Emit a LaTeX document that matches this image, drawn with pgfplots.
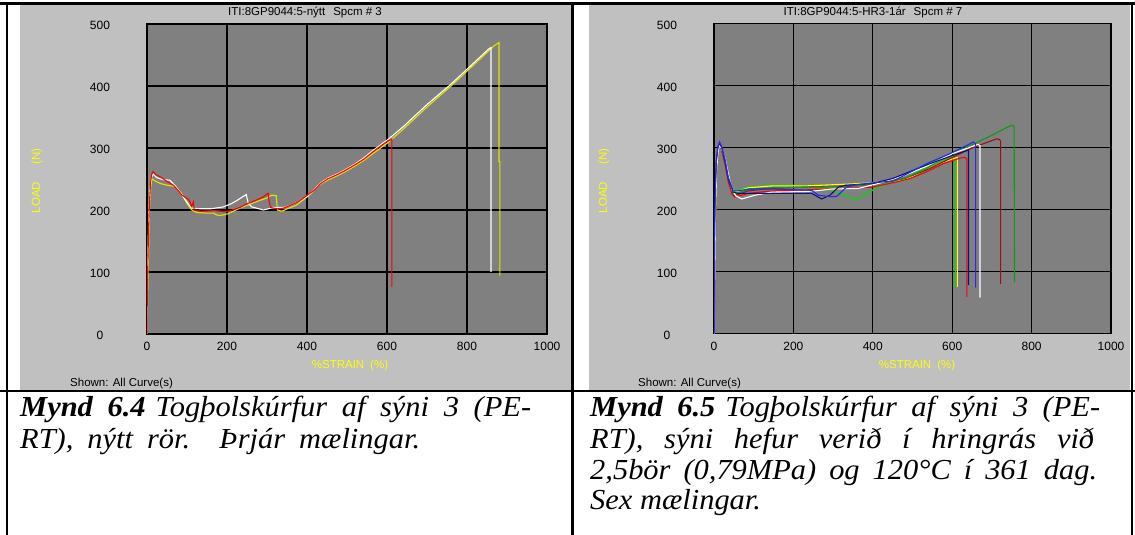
\documentclass[border=0pt]{standalone}
\usepackage{pgfplots}
\pgfplotsset{compat=1.18}
\usepackage{fontspec}
\setmainfont{Liberation Serif}
\newfontfamily\uisans{Liberation Sans}
\newfontfamily\capfont[FakeStretch=1.05]{Liberation Serif}

\definecolor{panelgray}{HTML}{C0C0C0}
\definecolor{plotgray}{HTML}{808080}
\definecolor{lyellow}{HTML}{E2E200}
\definecolor{cyellow}{HTML}{FFFF00}
\definecolor{cred}{HTML}{FF0000}
\definecolor{cgreen}{HTML}{00E000}
\definecolor{dgreen}{HTML}{109A10}
\definecolor{dred}{HTML}{A01010}
\definecolor{cblue}{HTML}{2828F0}
\definecolor{cnavy}{HTML}{101080}

\newcommand{\uifont}{\uisans\fontsize{11.5}{13}\selectfont}
\newcommand{\tickfont}{\uisans\fontsize{12}{14}\selectfont}

\pgfplotsset{
  testplot/.style={
    width=400pt, height=310pt, scale only axis,
    xmin=0, xmax=1000, ymin=0, ymax=500,
    xtick={0,200,...,1000}, ytick={0,100,...,500},
    grid=major, major tick length=0pt,
    grid style={black, line width=1.1pt},
    axis line style={black, line width=1.2pt},
    axis background/.style={fill=plotgray},
    /pgf/number format/assume math mode=true,
    /pgf/number format/1000 sep={},
    ticklabel style={font=\tickfont, text=black},
    yticklabel style={anchor=center, xshift=-47pt, yshift=-1.5pt},
    xticklabel style={anchor=center, yshift=-12.5pt},
    every axis plot/.append style={line width=1.1pt},
  }
}

\begin{document}
\begin{tikzpicture}[x=1pt,y=1pt]
\useasboundingbox (0,0) rectangle (1135,535);
\fill[white] (0,0) rectangle (1135,535);
\fill[panelgray] (20,145) rectangle (571,530);
\fill[panelgray] (589,145) rectangle (1130,530);

% ---------------- left chart ----------------
\begin{axis}[testplot, at={(147pt,201pt)}, anchor=south west]
\addplot[lyellow] coordinates {
  (0,0) (2,80) (4,130) (6,200) (9,235) (12,250) (20,247) (32,243) (50,240)
  (70,238) (85,228) (95,216) (105,206) (112,200) (124,196) (145,195)
  (166,195) (178,191) (190,192) (203,194) (232,203) (260,210) (280,215)
  (299,219) (312,224) (323,223) (326,200) (337,198) (355,203) (374,208)
  (400,221) (420,233) (433,241) (451,248) (475,255) (496,262) (520,271)
  (542,280) (569,293) (601,308) (640,330) (700,366) (760,400) (820,436)
  (870,466) (880,470) (880,278) (882,278) (882,94)
};
\addplot[white] coordinates {
  (0,0) (1,60) (2,125) (4,180) (7,230) (11,252) (15,258) (25,252) (40,249)
  (57,248) (72,238) (91,221) (105,208) (112,203) (132,202) (160,202)
  (191,205) (210,210) (224,215) (248,225) (253,211) (262,205) (291,200)
  (316,204) (342,204) (360,208) (378,213) (401,222) (420,234) (433,243)
  (451,251) (475,258) (496,265) (520,274) (542,284) (569,298) (601,313)
  (640,334) (700,370) (760,403) (820,439) (855,460) (860,462) (860,100)
};
\addplot[cred] coordinates {
  (0,0) (0,30) (1,60) (2,110) (4,170) (6,210) (9,245) (12,258) (15,262)
  (22,257) (32,254) (50,246) (66,240) (79,231) (87,224) (99,219) (104,217)
  (108,212) (111,206) (113,208) (116,213) (118,200) (133,198) (170,199)
  (199,197) (218,201) (232,204) (250,210) (270,215) (290,221) (303,227)
  (305,215) (309,204) (325,202) (341,203) (360,208) (378,213) (399,223)
  (420,233) (433,242) (451,250) (475,257) (496,264) (520,273) (542,282)
  (569,296) (590,306) (601,311) (612,314) (612,76)
};
\end{axis}

% ---------------- right chart ----------------
\begin{axis}[testplot, width=397pt, height=310pt, at={(714pt,201.5pt)}, anchor=south west]
\addplot[cgreen] coordinates {
  (0,0) (2,120) (4,210) (7,275) (11,300) (14,306) (19,300) (28,279) (36,252)
  (45,235) (55,230) (86,236) (145,239) (205,239) (246,236) (270,234)
  (296,231) (330,223) (355,216) (380,223) (406,234) (440,243) (481,250)
  (536,268) (575,278) (607,287) (608,287) (608,75)
};
\addplot[cyellow] coordinates {
  (0,0) (2,110) (4,205) (7,270) (11,298) (14,305) (19,299) (28,278)
  (36,250) (50,227) (86,235) (145,238) (229,238) (338,241) (397,243)
  (440,245) (481,248) (536,265) (580,277) (612,284) (613,284) (613,75)
};
\addplot[cred] coordinates {
  (0,0) (2,70) (4,190) (7,265) (11,296) (14,304) (19,296) (28,272) (36,245)
  (45,225) (53,220) (86,226) (145,230) (246,232) (355,235) (397,236)
  (450,243) (494,250) (536,261) (578,274) (620,283) (632,284) (637,281)
  (637,59)
};
\addplot[dred] coordinates {
  (0,0) (2,90) (4,200) (7,270) (11,298) (14,306) (19,298) (28,275) (36,247)
  (50,222) (86,230) (145,234) (229,236) (350,238) (420,243) (480,250)
  (536,264) (620,290) (653,300) (712,314) (719,313) (722,310) (722,80)
};
\addplot[dgreen] coordinates {
  (0,0) (2,100) (4,200) (7,272) (11,300) (14,308) (19,300) (28,278)
  (36,250) (50,224) (86,232) (145,235) (250,236) (350,238) (420,242)
  (480,250) (536,266) (578,285) (620,296) (656,306) (704,321) (746,335)
  (752,336) (756,333) (757,83)
};
\addplot[white] coordinates {
  (0,0) (2,100) (4,200) (7,268) (11,296) (14,304) (19,298) (28,282)
  (36,258) (45,232) (55,222) (70,217) (103,223) (145,228) (229,229)
  (254,230) (296,233) (364,234) (420,243) (480,255) (536,270) (600,290)
  (665,305) (670,303) (670,58)
};
\addplot[cnavy] coordinates {
  (0,0) (1,150) (3,230) (6,280) (10,300) (14,307) (19,300) (28,278)
  (36,250) (48,228) (61,226) (145,226) (246,226) (271,217) (292,223)
  (313,236) (330,239) (400,242) (450,250) (536,272) (600,287) (641,296)
  (641,78)
};
\addplot[cblue] coordinates {
  (0,0) (1,120) (3,220) (6,278) (10,302) (14,309) (19,302) (28,280)
  (36,252) (48,230) (60,230) (86,233) (145,233) (246,231) (263,223)
  (288,221) (309,221) (330,234) (347,239) (400,243) (452,246) (536,274)
  (594,290) (645,306) (653,309) (659,306) (659,74)
};
\end{axis}

% ---------------- panel texts ----------------
\begin{scope}[font=\uifont]
\node at (305,523) {ITI:8GP9044:5-nýtt\hspace{8pt}Spcm \# 3};
\node at (873,523) {ITI:8GP9044:5-HR3-1ár\hspace{8pt}Spcm \# 7};
\node[text=cyellow, rotate=90] at (37,354) {LOAD\hspace{17pt}(N)};
\node[text=cyellow, rotate=90] at (604,354) {LOAD\hspace{17pt}(N)};
\node[text=cyellow] at (350,169) {\%STRAIN\hspace{6pt}(\%)};
\node[text=cyellow] at (917,169) {\%STRAIN\hspace{6pt}(\%)};
\node[anchor=west, inner sep=0pt] at (70,151) {Shown: All Curve(s)};
\node[anchor=west, inner sep=0pt] at (638,151) {Shown: All Curve(s)};
\end{scope}

% ---------------- table rules ----------------
\draw[line width=2.8pt] (0,531.1) -- (1135,531.1);
\draw[line width=2.4pt] (0,143.8) -- (1135,143.8);
\draw[line width=2.5pt] (6.8,0) -- (6.8,532.5);
\draw[line width=3pt] (572,0) -- (572,532.5);
\draw[line width=2.5pt] (1132,0) -- (1132,532.5);

% ---------------- captions ----------------
\begin{scope}[font=\capfont\fontsize{29}{31.6}\selectfont\itshape, inner sep=0pt]
\node[anchor=base west] at (20,118.3) {\makebox[511pt][s]{\textbf{Mynd 6.4}\hspace{10pt}Togþolskúrfur af sýni 3 (PE-}};
\node[anchor=base west] at (20,86.7) {\makebox[400pt][s]{RT), nýtt rör. Þrjár mælingar.}};
\node[anchor=base west] at (590,118.3) {\makebox[510pt][s]{\textbf{Mynd 6.5}\hspace{10pt}Togþolskúrfur af sýni 3 (PE-}};
\node[anchor=base west] at (590,86.7) {\makebox[504pt][s]{RT), sýni hefur verið í hringrás við}};
\node[anchor=base west] at (590,55) {\makebox[507pt][s]{2,5bör (0,79MPa) og 120°C í 361 dag.}};
\node[anchor=base west] at (590,25.7) {Sex mælingar.};
\end{scope}
\end{tikzpicture}
\end{document}
